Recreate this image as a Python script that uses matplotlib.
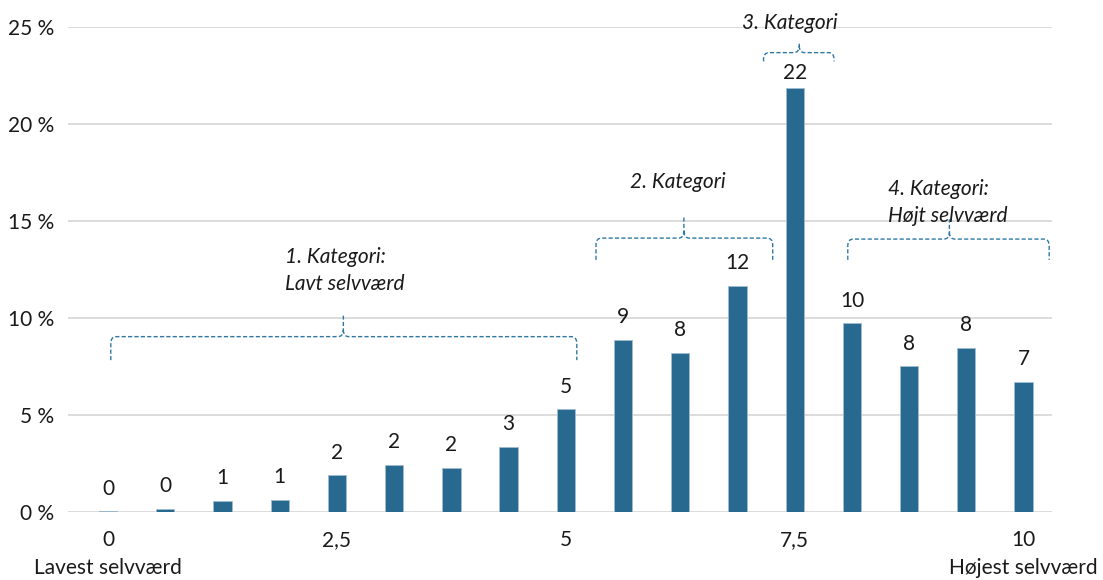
import numpy as np
import matplotlib.pyplot as plt
from matplotlib.path import Path
from matplotlib.patches import PathPatch

# Score on the self-esteem scale (0-10) and share of respondents in %
scores = [0, 0.625, 1.25, 1.875, 2.5, 3.125, 3.75, 4.375, 5,
          5.625, 6.25, 6.875, 7.5, 8.125, 8.75, 9.375, 10]
shares = [0.05, 0.16, 0.57, 0.62, 1.9, 2.43, 2.29, 3.36, 5.31,
          8.88, 8.22, 11.67, 21.84, 9.74, 7.52, 8.48, 6.71]

tick_pos = [0, 2.5, 5, 7.5, 10]
tick_txt = ['0', '2,5', '5', '7,5', '10']
y_ticks = [0, 5, 10, 15, 20, 25]

bar_color = '#286990'
brace_color = '#2f78a6'
fs = 15

plt.rcParams['font.family'] = ['Lato', 'DejaVu Sans']

fig = plt.figure(figsize=(11.03, 5.8), dpi=100)
ax = fig.add_axes([0.0617, 0.1172, 0.892, 0.8362])

ax.bar(scores, shares, width=0.2, color=bar_color, edgecolor='#9fbcd0', linewidth=0.6, zorder=3)

for x, v in zip(scores, shares):
    off = 4 if v == max(shares) else 9
    ax.annotate(f'{v:.0f}', (x, v), xytext=(0, off), textcoords='offset points',
                ha='center', va='bottom', fontsize=fs, color='#1a1a1a')

ax.set_xlim(-0.437, 10.31)
ax.set_ylim(0, 25)
ax.set_yticks(y_ticks)
ax.set_yticklabels([f'{t} %' for t in y_ticks], fontsize=fs, color='#1a1a1a')
ax.set_xticks(tick_pos)
ax.set_xticklabels(tick_txt, fontsize=fs, color='#1a1a1a')
ax.tick_params(length=0, pad=13)
ax.tick_params(axis='y', pad=10)
ax.grid(axis='y', color='#d9d9d9', linewidth=1.3, zorder=0)
for s in ax.spines.values():
    s.set_visible(False)

# End labels under the x axis
ax.text(0, -0.115, 'Lavest selvværd', transform=ax.get_xaxis_transform(),
        ha='center', va='center', fontsize=fs, color='#1a1a1a')
ax.text(10, -0.115, 'Højest selvværd', transform=ax.get_xaxis_transform(),
        ha='center', va='center', fontsize=fs, color='#1a1a1a')


# Curly brace drawn as a dashed path
def brace(x0, x1, xc, yh, yend, ytip):
    dx = 0.06
    dy = 0.35
    verts = [(x0, yend), (x0, yh - dy), (x0, yh), (x0 + dx, yh),
             (xc - dx, yh), (xc, yh), (xc, yh + dy), (xc, ytip),
             (xc, yh + dy), (xc, yh), (xc + dx, yh),
             (x1 - dx, yh), (x1, yh), (x1, yh - dy), (x1, yend)]
    codes = [Path.MOVETO, Path.LINETO, Path.CURVE3, Path.CURVE3,
             Path.LINETO, Path.CURVE3, Path.CURVE3, Path.LINETO,
             Path.MOVETO, Path.CURVE3, Path.CURVE3,
             Path.LINETO, Path.CURVE3, Path.CURVE3, Path.LINETO]
    p = PathPatch(Path(verts, codes), fill=False, edgecolor=brace_color,
                  linewidth=1.0, linestyle=(0, (3, 1.6)), zorder=4, clip_on=False)
    ax.add_patch(p)


brace(0.03, 5.12, 2.57, 9.04, 7.83, 10.12)
brace(5.33, 7.26, 6.29, 14.12, 13.0, 15.2)
brace(7.16, 7.93, 7.55, 23.68, 23.23, 24.14)
brace(8.08, 10.28, 9.19, 14.07, 13.0, 15.09)

txt = dict(fontsize=fs, style='italic', color='#1a1a1a', linespacing=1.45)
ax.text(1.93, 12.45, '1. Kategori:\nLavt selvværd', ha='left', va='center', **txt)
ax.text(6.22, 17.0, '2. Kategori', ha='center', va='center', **txt)
ax.text(7.45, 25.2, '3. Kategori', ha='center', va='center', clip_on=False, **txt)
ax.text(8.52, 15.95, '4. Kategori:\nHøjt selvværd', ha='left', va='center', **txt)

fig.savefig('out.png', dpi=100)
